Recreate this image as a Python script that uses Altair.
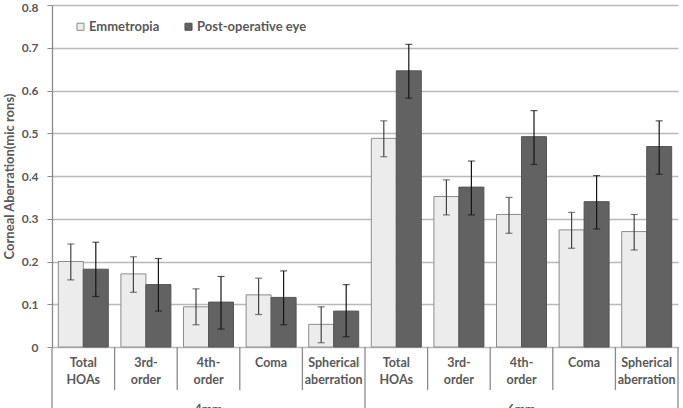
import altair as alt
import pandas as pd

# Zernike categories and their two-line axis labels
categories = ["Total HOAs", "3rd-order", "4th-order", "Coma", "Spherical aberration"]
cat_labels = ["Total\nHOAs", "3rd-\norder", "4th-\norder", "Coma", "Spherical\naberration"]
pupils = ["4mm", "6mm"]
series = ["Emmetropia", "Post-operative eye"]

# Mean corneal aberration (microns) with lower / upper error limits
emm_mean_4 = [0.200, 0.171, 0.094, 0.122, 0.053]
emm_lo_4 = [0.157, 0.128, 0.052, 0.076, 0.010]
emm_hi_4 = [0.241, 0.211, 0.136, 0.161, 0.094]
post_mean_4 = [0.182, 0.146, 0.105, 0.116, 0.084]
post_lo_4 = [0.118, 0.084, 0.042, 0.052, 0.024]
post_hi_4 = [0.245, 0.207, 0.165, 0.178, 0.146]

emm_mean_6 = [0.488, 0.352, 0.310, 0.274, 0.270]
emm_lo_6 = [0.445, 0.309, 0.266, 0.231, 0.227]
emm_hi_6 = [0.529, 0.391, 0.350, 0.315, 0.310]
post_mean_6 = [0.646, 0.374, 0.492, 0.340, 0.469]
post_lo_6 = [0.582, 0.309, 0.427, 0.276, 0.404]
post_hi_6 = [0.708, 0.435, 0.553, 0.401, 0.529]

y_ticks = [0, 0.1, 0.2, 0.3, 0.4, 0.5, 0.6, 0.7, 0.8]

FONT = "Lato"
TXT = "#595959"

rows = []
cat_keys = []
cat_rows = []
for p, (em, el, eh, pm, pl, ph) in zip(
    pupils,
    [(emm_mean_4, emm_lo_4, emm_hi_4, post_mean_4, post_lo_4, post_hi_4),
     (emm_mean_6, emm_lo_6, emm_hi_6, post_mean_6, post_lo_6, post_hi_6)],
):
    for i, c in enumerate(categories):
        key = f"{p} {c}"
        cat_keys.append(key)
        cat_rows.append({"key": key, "label": cat_labels[i], "pupil": p, "idx": i})
        rows.append({"key": key, "series": series[0], "mean": em[i], "lo": el[i], "hi": eh[i]})
        rows.append({"key": key, "series": series[1], "mean": pm[i], "lo": pl[i], "hi": ph[i]})

df = pd.DataFrame(rows)
cats_df = pd.DataFrame(cat_rows)

W, H = 626, 342

x_scale = alt.Scale(domain=cat_keys, paddingInner=0, paddingOuter=0)
x_enc = alt.X("key:N", scale=x_scale, axis=None)
off_scale = alt.Scale(domain=series, paddingOuter=0.252, paddingInner=0)
y_scale = alt.Scale(domain=[0, 0.8], nice=False)

bars = alt.Chart(df).mark_bar(strokeWidth=1).encode(
    x=x_enc,
    xOffset=alt.XOffset("series:N", scale=off_scale),
    y=alt.Y(
        "mean:Q",
        scale=y_scale,
        axis=alt.Axis(
            values=y_ticks,
            format="~g",
            title="Corneal Aberration(mic rons)",
            grid=True,
            gridColor="#b9b9b9",
            gridWidth=1.6,
            domainColor="#8a8a8a",
            domainWidth=1.3,
            tickColor="#8a8a8a",
            tickSize=5,
            labelPadding=9,
            labelOffset={"condition": {"test": "datum.value == 0.8", "value": 2}, "value": 0},
            labelFont=FONT,
            labelFontSize=12,
            labelFontWeight="bold",
            labelColor=TXT,
            titleFont=FONT,
            titleFontSize=13,
            titleFontWeight="bold",
            titleColor=TXT,
            titlePadding=5,
        ),
    ),
    fill=alt.Fill(
        "series:N",
        scale=alt.Scale(domain=series, range=["#ececec", "#626262"]),
        legend=alt.Legend(
            title=None,
            orient="none",
            legendX=22,
            legendY=15,
            direction="horizontal",
            symbolType="square",
            symbolSize=50,
            symbolStrokeColor="#8a8a8a",
            symbolStrokeWidth=1,
            labelFont=FONT,
            labelFontSize=13,
            labelFontWeight="bold",
            labelColor=TXT,
            labelOffset=2,
            columnPadding=22,
        ),
    ),
    stroke=alt.Stroke(
        "series:N",
        scale=alt.Scale(domain=series, range=["#8c8c8c", "#555555"]),
        legend=None,
    ),
)

err_color = alt.Color(
    "series:N", scale=alt.Scale(domain=series, range=["#444444", "#151515"]), legend=None
)

err_rules = alt.Chart(df).mark_rule(strokeWidth=1.2).encode(
    x=x_enc,
    xOffset=alt.XOffset("series:N", scale=off_scale),
    y=alt.Y("lo:Q", scale=y_scale),
    y2="hi:Q",
    color=err_color,
)

cap_hi = alt.Chart(df).mark_tick(size=7, thickness=1.2, orient="horizontal").encode(
    x=x_enc,
    xOffset=alt.XOffset("series:N", scale=off_scale),
    y=alt.Y("hi:Q", scale=y_scale),
    color=err_color,
)
cap_lo = alt.Chart(df).mark_tick(size=7, thickness=1.2, orient="horizontal").encode(
    x=x_enc,
    xOffset=alt.XOffset("series:N", scale=off_scale),
    y=alt.Y("lo:Q", scale=y_scale),
    color=err_color,
)

# Category labels under the zero line
cat_text = alt.Chart(cats_df).mark_text(
    font=FONT, fontSize=12.5, fontWeight="bold", color=TXT,
    lineBreak="\n", lineHeight=17, baseline="top",
).encode(
    x=x_enc,
    y=alt.value(H + 10),
    text="label:N",
)

# Short separators between categories
sep = alt.Chart(cats_df).transform_filter("datum.idx > 0").mark_rule(
    color="#8a8a8a", strokeWidth=1.3
).encode(
    x=alt.X("key:N", scale=x_scale, axis=None, bandPosition=0),
    y=alt.value(H),
    y2=alt.value(H + 43),
)

# Long separators bounding each pupil-size group
group_start = alt.Chart(cats_df).transform_filter("datum.idx == 0").mark_rule(
    color="#8a8a8a", strokeWidth=1.3
).encode(
    x=alt.X("key:N", scale=x_scale, axis=None, bandPosition=0),
    y=alt.value(H),
    y2=alt.value(H + 70),
)
group_end = alt.Chart(cats_df).transform_filter(
    f"datum.key == '{cat_keys[-1]}'"
).mark_rule(color="#8a8a8a", strokeWidth=1.3).encode(
    x=alt.X("key:N", scale=x_scale, axis=None, bandPosition=1),
    y=alt.value(H),
    y2=alt.value(H + 70),
)

group_text = alt.Chart(cats_df).transform_filter("datum.idx == 2").mark_text(
    font=FONT, fontSize=12.5, fontWeight="bold", color=TXT, baseline="top"
).encode(
    x=x_enc,
    y=alt.value(H + 57),
    text="pupil:N",
)

chart = alt.layer(
    bars, err_rules, cap_hi, cap_lo, sep, group_start, group_end, cat_text, group_text
).resolve_scale(color="independent").properties(
    width=W,
    height=H,
    autosize=alt.AutoSizeParams(type="none"),
    padding={"left": 52, "top": 5, "right": 5, "bottom": 61},
    background="white",
).configure_view(stroke=None)

chart.save("out.html", embed_options={"renderer": "svg", "actions": False})
